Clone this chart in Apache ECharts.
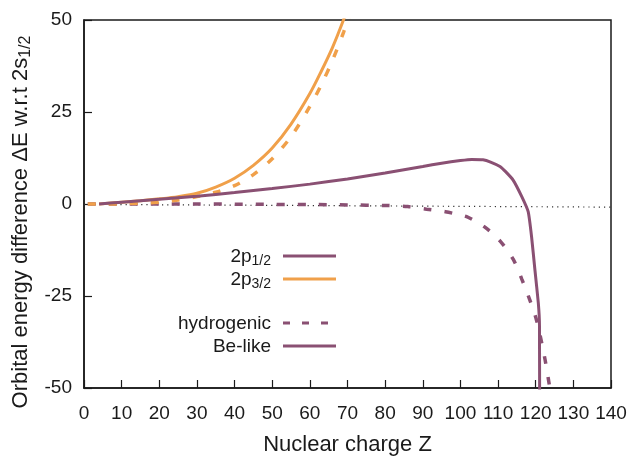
<!DOCTYPE html>
<html>
<head>
<meta charset="utf-8">
<script src="https://cdn.jsdelivr.net/npm/echarts@6/dist/echarts.min.js"></script>
<style>
  html, body { margin: 0; padding: 0; background: #ffffff; }
  #chart { width: 631px; height: 457px; }
</style>
</head>
<body>
<div id="chart"></div>
<script>
// Axis ranges and tick steps
const xRange = [0, 140];
const xStep = 10;
const yRange = [-50, 50];
const yStep = 25;

// Be-like ion, 2p1/2 - 2s1/2
const zBe12 = [4, 10, 20, 30, 40, 50, 60, 70, 80, 90, 95, 100, 103, 106, 108, 110.5, 112, 114, 116.3, 118, 118.9, 119.8, 120.7, 121.0, 121.15];
const eBe12 = [0, 0.5, 1.3, 2.1, 3.1, 4.2, 5.4, 6.8, 8.4, 10.2, 11.1, 11.8, 12.1, 12.0, 11.4, 10.2, 8.8, 6.5, 2.0, -2.1, -8.9, -18, -27, -33, -120];

// Be-like ion, 2p3/2 - 2s1/2
const zBe32 = [4, 10, 15, 20, 25, 30, 35, 40, 45, 50, 55, 60, 63, 66, 69, 71];
const eBe32 = [0, 0.5, 0.9, 1.4, 2.0, 2.9, 4.6, 7.0, 10.5, 15.2, 21.7, 30.0, 36.0, 42.5, 50.2, 56.0];

// Hydrogenic ion, 2p1/2 - 2s1/2
const zH12 = [1, 10, 20, 30, 40, 50, 60, 70, 80, 86, 91, 96, 100, 102, 106.5, 110.5, 114, 116.3, 118.4, 120.2, 121.6, 122.5, 123.4, 124.2];
const eH12 = [0, 0, 0, 0, -0.05, -0.1, -0.15, -0.25, -0.4, -0.7, -1.4, -2.1, -3.0, -3.6, -6.3, -10.0, -15.0, -20.4, -26, -31.5, -37.8, -42.4, -47.8, -53];

// Hydrogenic ion, 2p3/2 - 2s1/2
const zH32 = [1, 10, 20, 25, 30, 35, 40, 45, 50, 55, 60, 63, 66, 69, 72];
const eH32 = [0, 0.05, 0.5, 1.1, 2.0, 3.2, 5.0, 8.0, 12.3, 18.3, 26.5, 32.3, 39.0, 46.8, 56.0];

// Reference dotted line near zero
const zRef = [0, 140];
const eRef = [-0.1, -0.85];

const purple = '#8a5073';
const orange = '#f0a04a';
const ink = '#1a1a1a';
const fontFamily = '"Liberation Sans", Arial, sans-serif';

function pairs(xs, ys) {
  return xs.map((x, i) => [x, ys[i]]);
}

function curve(name, xs, ys, color, dashed, width, smooth) {
  return {
    name: name,
    type: 'line',
    data: pairs(xs, ys),
    showSymbol: false,
    symbol: 'none',
    smooth: smooth,
    clip: true,
    silent: true,
    lineStyle: {
      color: color,
      width: width,
      type: dashed ? [8, 13] : 'solid',
      cap: 'butt'
    },
    z: 3
  };
}

// Legend drawn as text + line samples, text right-aligned before each sample
const legendRows = [
  { main: '2p', sub: '1/2', color: purple, dashed: false, y: 256 },
  { main: '2p', sub: '3/2', color: orange, dashed: false, y: 279 },
  { main: 'hydrogenic', sub: '', color: purple, dashed: true, y: 323 },
  { main: 'Be-like', sub: '', color: purple, dashed: false, y: 346 }
];

const legendGraphics = [];
legendRows.forEach(r => {
  legendGraphics.push({
    type: 'text',
    x: 271,
    y: r.y + 1,
    style: {
      text: r.sub ? '{m|' + r.main + '}{s|' + r.sub + '}' : '{m|' + r.main + '}',
      align: 'right',
      verticalAlign: 'middle',
      textAlign: 'right',
      textVerticalAlign: 'middle',
      fill: ink,
      rich: {
        m: { fontSize: 19, fontFamily: fontFamily, fill: ink, color: ink },
        s: { fontSize: 14, fontFamily: fontFamily, fill: ink, color: ink, padding: [9, 0, 0, 0] }
      }
    },
    z: 10
  });
  legendGraphics.push({
    type: 'line',
    shape: { x1: 283, y1: r.y, x2: 336, y2: r.y },
    style: {
      stroke: r.color,
      lineWidth: 3,
      lineDash: r.dashed ? [7, 12] : null
    },
    z: 10
  });
});

const chart = echarts.init(document.getElementById('chart'), null, { renderer: 'canvas' });

chart.setOption({
  animation: false,
  backgroundColor: '#ffffff',
  grid: {
    left: 84,
    right: 20,
    top: 20,
    bottom: 69,
    containLabel: false,
    outerBoundsMode: 'none',
    show: true,
    borderColor: ink,
    borderWidth: 1.5,
    backgroundColor: 'transparent'
  },
  xAxis: {
    type: 'value',
    min: xRange[0],
    max: xRange[1],
    interval: xStep,
    name: 'Nuclear charge Z',
    nameLocation: 'middle',
    nameGap: 46,
    nameTextStyle: { fontSize: 22, fontFamily: fontFamily, color: ink },
    axisLine: { show: true, onZero: false, lineStyle: { color: ink, width: 1.5 } },
    axisTick: { show: true, inside: true, length: 8, lineStyle: { color: ink, width: 1.2 } },
    axisLabel: { fontSize: 19, fontFamily: fontFamily, color: ink, margin: 16 },
    splitLine: { show: false }
  },
  yAxis: {
    type: 'value',
    min: yRange[0],
    max: yRange[1],
    interval: yStep,
    name: '{m|Orbital energy difference ΔE w.r.t 2s}{s|1/2}',
    nameLocation: 'middle',
    nameRotate: 90,
    nameGap: 47,
    nameTextStyle: {
      fontSize: 22,
      fontFamily: fontFamily,
      color: ink,
      padding: [0, 36, 0, 0],
      rich: {
        m: { fontSize: 22, fontFamily: fontFamily, color: ink },
        s: { fontSize: 16, fontFamily: fontFamily, color: ink, padding: [10, 0, 0, 0] }
      }
    },
    axisLine: { show: true, onZero: false, lineStyle: { color: ink, width: 1.5 } },
    axisTick: { show: true, inside: true, length: 8, lineStyle: { color: ink, width: 1.2 } },
    axisLabel: { fontSize: 19, fontFamily: fontFamily, color: ink, margin: 12 },
    splitLine: { show: false }
  },
  series: [
    {
      name: 'reference',
      type: 'line',
      data: pairs(zRef, eRef),
      showSymbol: false,
      symbol: 'none',
      silent: true,
      lineStyle: { color: '#333333', width: 1.2, type: [1.2, 4] },
      z: 2
    },
    curve('hydrogenic 2p1/2', zH12, eH12, purple, true, 3.5, 0.3),
    curve('hydrogenic 2p3/2', zH32, eH32, orange, true, 3.5, 0.3),
    curve('Be-like 2p3/2', zBe32, eBe32, orange, false, 3, 0.3),
    curve('Be-like 2p1/2', zBe12, eBe12, purple, false, 3, 0.15)
  ],
  graphic: legendGraphics
});
</script>
</body>
</html>
